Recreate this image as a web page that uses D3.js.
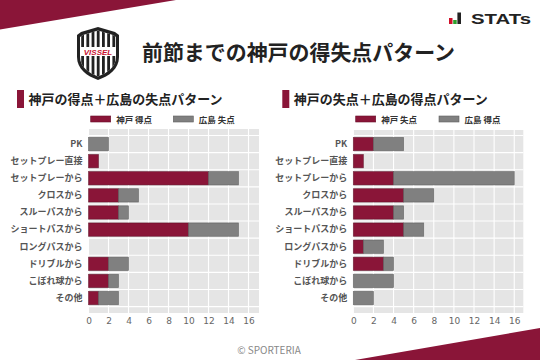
<!DOCTYPE html>
<html><head><meta charset="utf-8">
<script src="https://cdn.jsdelivr.net/npm/d3@7"></script>
<style>body{margin:0;background:#fff}svg{display:block;font-family:"Noto Sans CJK JP","Noto Sans",sans-serif}</style>
</head><body>
<script>
const categories = ["PK","セットプレー直接","セットプレーから","クロスから","スルーパスから","ショートパスから","ロングパスから","ドリブルから","こぼれ球から","その他"];
const kobeScored = [0,1,12,3,3,10,0,2,2,1];
const hiroshimaConceded = [2,0,3,2,1,5,0,2,1,2];
const kobeConceded = [2,1,4,5,4,5,1,3,0,0];
const hiroshimaScored = [3,0,12,3,1,2,2,1,4,2];
const xTicks = [0,2,4,6,8,10,12,14,16];
const title = "前節までの神戸の得失点パターン";
const leftTitle = "神戸の得点＋広島の失点パターン";
const rightTitle = "神戸の失点＋広島の得点パターン";
const leftLegend = ["神戸 得点","広島 失点"];
const rightLegend = ["神戸 失点","広島 得点"];

const RED = "#8a1538", GRAY = "#808080";
const svg = d3.select("body").append("svg").attr("width",540).attr("height",360);

// decorative corners
svg.append("polygon").attr("points","0,0 176,0 0,29.5").attr("fill",RED);
svg.append("polygon").attr("points","355,360 540,328 540,360").attr("fill",RED);

// Vissel shield logo
const logo = svg.append("g").attr("transform","translate(77,27)");
const outer = "M4,5 L21,0 L38,5 L42,8 L42,30 C42,42 32,49 21,53 C10,49 0,42 0,30 L0,8 Z";
const inner = "M6,8 L21,3.5 L36,8 L39,10 L39,30 C39,40 30,46 21,49.5 C12,46 3,40 3,30 L3,10 Z";
logo.append("path").attr("d",outer).attr("fill","#222");
logo.append("path").attr("d",inner).attr("fill","#fff");
const cp = svg.append("defs").append("clipPath").attr("id","sh");
cp.append("path").attr("d",inner);
const st = logo.append("g").attr("clip-path","url(#sh)");
for (let i=0;i<7;i++){ st.append("rect").attr("x",4.2+i*5.2).attr("y",0).attr("width",2.8).attr("height",56).attr("fill","#222"); }
logo.append("rect").attr("x",3).attr("y",20).attr("width",36).attr("height",9).attr("fill","#fff");
logo.append("text").attr("x",21).attr("y",27.8).attr("text-anchor","middle").attr("font-size",8).attr("font-weight","bold").attr("font-style","italic").attr("fill","#c8102e").attr("font-family","Liberation Sans, sans-serif").text("VISSEL");

// STATs logo
svg.append("rect").attr("x",449).attr("y",18).attr("width",3.5).attr("height",6).attr("fill","#d0102a");
svg.append("rect").attr("x",453.2).attr("y",20).attr("width",3.5).attr("height",4).attr("fill","#2ca02c");
svg.append("rect").attr("x",457.4).attr("y",12.5).attr("width",3.6).attr("height",11.5).attr("fill","#222");
svg.append("text").attr("x",471).attr("y",24).attr("font-size",15).attr("font-weight","bold").attr("fill","#222").attr("textLength",60).attr("lengthAdjust","spacingAndGlyphs").attr("font-family","Liberation Sans, DejaVu Sans, sans-serif").text("STATs");

// main title
svg.append("text").attr("x",142).attr("y",60).attr("font-size",21).attr("font-weight","bold").attr("fill","#222").attr("textLength",313).attr("lengthAdjust","spacingAndGlyphs").text(title);

// copyright
svg.append("text").attr("x",269).attr("y",354).attr("text-anchor","middle").attr("font-size",10).attr("fill","#888").text("© SPORTERIA");

function panel(opt){
  const g = svg.append("g");
  g.append("rect").attr("x",opt.barX).attr("y",90).attr("width",7).attr("height",18).attr("fill",RED);
  g.append("text").attr("x",opt.barX+11.5).attr("y",104).attr("font-size",13).attr("font-weight","bold").attr("fill","#222").attr("textLength",194).attr("lengthAdjust","spacingAndGlyphs").text(opt.title);
  const lg = [[opt.legend[0],RED,opt.lx[0]],[opt.legend[1],GRAY,opt.lx[1]]];
  lg.forEach(([t,c,x])=>{
    g.append("rect").attr("x",x).attr("y",116).attr("width",20).attr("height",6).attr("fill",c).attr("stroke",d3.color(c).darker(0.8)).attr("stroke-width",0.6);
    g.append("text").attr("x",x+25.5).attr("y",122.5).attr("font-size",8.5).attr("font-weight","bold").attr("fill","#333").text(t);
  });
  const x = d3.scaleLinear().domain([0,opt.xmax]).range([opt.x0,opt.x1]);
  const y = d3.scaleBand().domain(categories).range([135.5,306.6]).paddingInner(0.22).paddingOuter(0.11);
  g.append("rect").attr("x",opt.x0).attr("y",opt.top).attr("width",opt.x1-opt.x0).attr("height",313-opt.top).attr("fill","#e5e5e5");
  g.selectAll(".vg").data(xTicks).join("line").attr("x1",d=>x(d)).attr("x2",d=>x(d)).attr("y1",opt.top).attr("y2",313).attr("stroke","#fff").attr("stroke-width",1.1);
  const step = y.step();
  g.selectAll(".hg").data(d3.range(categories.length+1)).join("line").attr("x1",opt.x0).attr("x2",opt.x1).attr("y1",d=>135.5+d*step).attr("y2",d=>135.5+d*step).attr("stroke","#fff").attr("stroke-width",1.1);
  categories.forEach((c,i)=>{
    const a = opt.a[i], b = opt.b[i];
    if (a>0) g.append("rect").attr("x",x(0)).attr("y",y(c)).attr("width",x(a)-x(0)).attr("height",y.bandwidth()).attr("fill",RED).attr("stroke","#5a0e25").attr("stroke-width",0.7).attr("stroke-opacity",0.7);
    if (b>0) g.append("rect").attr("x",x(a)).attr("y",y(c)).attr("width",x(a+b)-x(a)).attr("height",y.bandwidth()).attr("fill",GRAY).attr("stroke","#555").attr("stroke-width",0.7).attr("stroke-opacity",0.7);
  });
  const ya = g.append("g").attr("transform",`translate(${opt.x0},0)`).call(d3.axisLeft(y).tickSize(0).tickPadding(6));
  ya.select(".domain").remove();
  ya.selectAll("text").attr("font-size",9).attr("font-weight","bold").attr("fill","#555").attr("font-family","Noto Sans CJK JP, sans-serif");
  const xa = g.append("g").attr("transform","translate(0,313)").call(d3.axisBottom(x).tickValues(xTicks).tickSize(0).tickPadding(5));
  xa.select(".domain").remove();
  xa.selectAll("text").attr("font-size",9).attr("fill","#666").attr("font-family","DejaVu Sans, sans-serif");
}

panel({barX:17,title:leftTitle,legend:leftLegend,lx:[90.7,173.3],x0:88.5,x1:259,xmax:17.05,top:129,a:kobeScored,b:hiroshimaConceded});
panel({barX:282.3,title:rightTitle,legend:rightLegend,lx:[355.7,439],x0:353.3,x1:523.3,xmax:16.9,top:130,a:kobeConceded,b:hiroshimaScored});
</script>
</body></html>
